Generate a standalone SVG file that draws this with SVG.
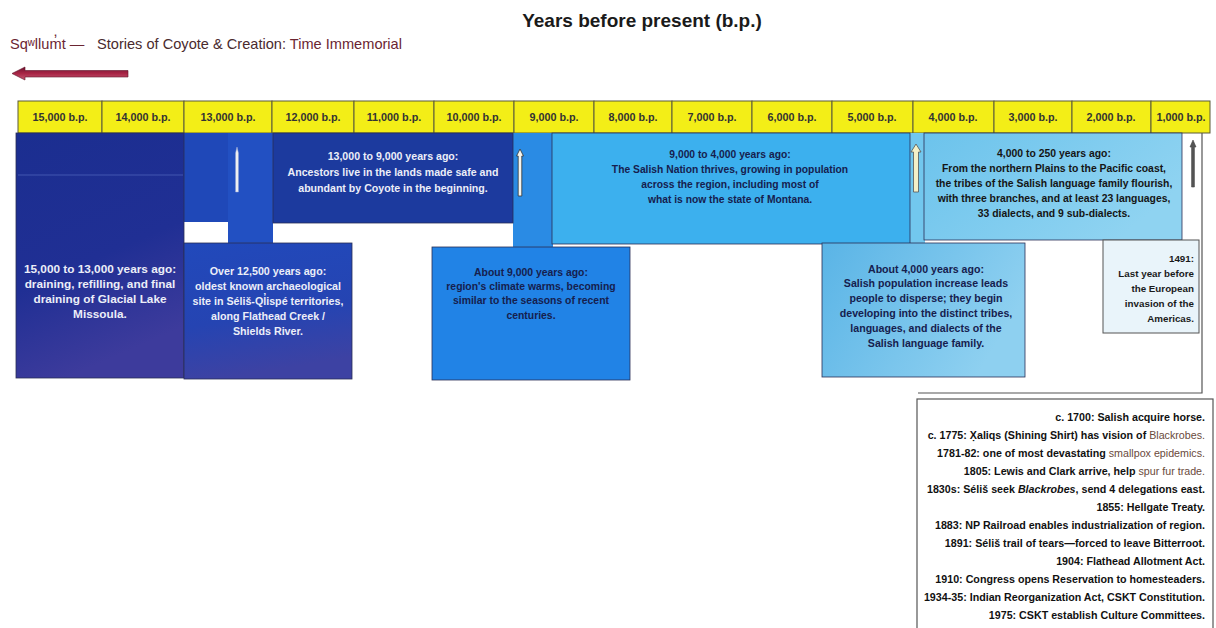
<svg xmlns="http://www.w3.org/2000/svg" width="1216" height="628" viewBox="0 0 1216 628">
<style>
text{font-family:"Liberation Sans",Arial,sans-serif}
.hd rect{fill:#f3ee17;stroke:#5a5a3a;stroke-width:1}
.hd text{font-size:10.8px;font-weight:bold;fill:#333;text-anchor:middle}
.blk{stroke:#2a2f55;stroke-width:0.8}
.tw{fill:#eceef8;font-weight:bold;text-anchor:middle}
.td{fill:#16204e;font-weight:bold;text-anchor:middle}
.tk{fill:#151515;font-weight:bold;text-anchor:middle}
.tl{font-size:10.7px;font-weight:bold;fill:#111;text-anchor:end}
.lt{font-weight:normal;fill:#6a4a3c}
.ln{fill:none;stroke:#555;stroke-width:1.2}
</style>
<defs>
<linearGradient id="gA" x1="0" y1="0" x2="0.3" y2="1"><stop offset="0" stop-color="#1b2e90"/><stop offset="0.6" stop-color="#202f94"/><stop offset="1" stop-color="#3d3b9c"/></linearGradient>
<linearGradient id="gB" x1="0" y1="0" x2="0.2" y2="1"><stop offset="0" stop-color="#2149bb"/><stop offset="0.6" stop-color="#2544b2"/><stop offset="1" stop-color="#3d42a3"/></linearGradient>
<linearGradient id="gG" x1="0" y1="0" x2="1" y2="0.4"><stop offset="0" stop-color="#5ab4e6"/><stop offset="1" stop-color="#8ed0f0"/></linearGradient>
<linearGradient id="gH" x1="0" y1="0" x2="1" y2="0.5"><stop offset="0" stop-color="#6cc3ec"/><stop offset="1" stop-color="#8fd3f1"/></linearGradient>
<linearGradient id="gR" x1="0" y1="0" x2="0" y2="1"><stop offset="0" stop-color="#6e1230"/><stop offset="0.5" stop-color="#a82545"/><stop offset="1" stop-color="#c65a74"/></linearGradient>
</defs>

<g id="title">
<text x="642" y="27" font-size="19" font-weight="bold" fill="#1a1a1a" text-anchor="middle">Years before present (b.p.)</text>
</g>
<g id="subtitle">
<text x="10" y="49" font-size="14.6" fill="#6b2532">Sqʷllum̓t — <tspan x="97" fill="#4a2a2e">Stories of Coyote &amp; Creation: </tspan>Time Immemorial</text>
<path d="M12,73.5 L25,67 V70.5 H128 V77 H25 V80 Z" fill="url(#gR)" stroke="#5e1026" stroke-width="0.6"/>
</g>

<g id="header" class="hd">
<g id="h15000"><rect x="18" y="101" width="84" height="32"/><text x="60" y="121">15,000 b.p.</text></g>
<g id="h14000"><rect x="102" y="101" width="82" height="32"/><text x="143" y="121">14,000 b.p.</text></g>
<g id="h13000"><rect x="184" y="101" width="88" height="32"/><text x="228" y="121">13,000 b.p.</text></g>
<g id="h12000"><rect x="272" y="101" width="82" height="32"/><text x="313" y="121">12,000 b.p.</text></g>
<g id="h11000"><rect x="354" y="101" width="80" height="32"/><text x="394" y="121">11,000 b.p.</text></g>
<g id="h10000"><rect x="434" y="101" width="80" height="32"/><text x="474" y="121">10,000 b.p.</text></g>
<g id="h9000"><rect x="514" y="101" width="80" height="32"/><text x="554" y="121">9,000 b.p.</text></g>
<g id="h8000"><rect x="594" y="101" width="78" height="32"/><text x="633" y="121">8,000 b.p.</text></g>
<g id="h7000"><rect x="672" y="101" width="80" height="32"/><text x="712" y="121">7,000 b.p.</text></g>
<g id="h6000"><rect x="752" y="101" width="80" height="32"/><text x="792" y="121">6,000 b.p.</text></g>
<g id="h5000"><rect x="832" y="101" width="81" height="32"/><text x="872" y="121">5,000 b.p.</text></g>
<g id="h4000"><rect x="913" y="101" width="81" height="32"/><text x="953" y="121">4,000 b.p.</text></g>
<g id="h3000"><rect x="994" y="101" width="78" height="32"/><text x="1033" y="121">3,000 b.p.</text></g>
<g id="h2000"><rect x="1072" y="101" width="79" height="32"/><text x="1111" y="121">2,000 b.p.</text></g>
<g id="h1000"><rect x="1151" y="101" width="59" height="32"/><text x="1181" y="121">1,000 b.p.</text></g>
</g>

<g id="col13000"><rect x="184" y="133" width="88" height="89" fill="#1f48b8"/><rect x="228" y="133" width="45" height="112" fill="#2250c2"/></g>
<g id="col9000"><rect x="513" y="133" width="40" height="114" fill="#2a8be4"/></g>
<g id="col4000"><rect x="909" y="133" width="16" height="111" fill="#72c7ee"/></g>
<g id="col1000"><path class="ln" d="M1202,133 V393 H918"/></g>

<g id="blockA">
<rect class="blk" x="16" y="133" width="168" height="245" fill="url(#gA)"/>
<line x1="18" y1="175" x2="183" y2="175" stroke="#4256b0" stroke-width="1"/>
<g class="tw" font-size="11.8"><text x="100" y="273">15,000 to 13,000 years ago:</text><text x="100" y="288">draining, refilling, and final</text><text x="100" y="303">draining of Glacial Lake</text><text x="100" y="318">Missoula.</text></g>
</g>
<g id="blockB">
<rect class="blk" x="184" y="243" width="168" height="136" fill="url(#gB)"/>
<g class="tw" font-size="10.7"><text x="268" y="275">Over 12,500 years ago:</text><text x="268" y="290">oldest known archaeological</text><text x="268" y="305">site in Séliš-Ql̓ispé territories,</text><text x="268" y="320">along Flathead Creek /</text><text x="268" y="335">Shields River.</text></g>
</g>
<g id="blockC">
<rect class="blk" x="273" y="133" width="240" height="90" fill="#1c3a9e"/>
<g class="tw" font-size="10.6"><text x="393" y="160">13,000 to 9,000 years ago:</text><text x="393" y="176">Ancestors live in the lands made safe and</text><text x="393" y="192">abundant by Coyote in the beginning.</text></g>
</g>
<g id="blockE">
<rect class="blk" x="432" y="247" width="198" height="133" fill="#2183e6"/>
<g class="td" font-size="10.4"><text x="531" y="276">About 9,000 years ago:</text><text x="531" y="290">region's climate warms, becoming</text><text x="531" y="304">similar to the seasons of recent</text><text x="531" y="319">centuries.</text></g>
</g>
<g id="blockF">
<rect class="blk" x="552" y="133" width="358" height="111" fill="#3cb0ee"/>
<g class="td" font-size="10.3"><text x="730" y="158">9,000 to 4,000 years ago:</text><text x="730" y="173">The Salish Nation thrives, growing in population</text><text x="730" y="188">across the region, including most of</text><text x="730" y="203">what is now the state of Montana.</text></g>
</g>
<g id="blockG">
<rect class="blk" x="822" y="243" width="203" height="134" fill="url(#gG)" stroke="#4a5a6a"/>
<g class="td" font-size="10.6"><text x="926" y="273">About 4,000 years ago:</text><text x="926" y="287">Salish population increase leads</text><text x="926" y="302">people to disperse; they begin</text><text x="926" y="317">developing into the distinct tribes,</text><text x="926" y="332">languages, and dialects of the</text><text x="926" y="347">Salish language family.</text></g>
</g>
<g id="blockH">
<rect class="blk" x="924" y="133" width="258" height="107" fill="url(#gH)" stroke="#3a4a5a"/>
<g class="tk" font-size="10.4"><text x="1054" y="157">4,000 to 250 years ago:</text><text x="1054" y="172">From the northern Plains to the Pacific coast,</text><text x="1054" y="187">the tribes of the Salish language family flourish,</text><text x="1054" y="202">with three branches, and at least 23 languages,</text><text x="1054" y="217">33 dialects, and 9 sub-dialects.</text></g>
</g>
<g id="blockI">
<rect x="1103" y="240" width="96" height="93" fill="#e9f4fa" stroke="#555" stroke-width="1"/>
<g font-size="9.8" font-weight="bold" fill="#1a1a1a" text-anchor="end"><text x="1194" y="262">1491:</text><text x="1194" y="277">Last year before</text><text x="1194" y="292">the European</text><text x="1194" y="307">invasion of the</text><text x="1194" y="322">Americas.</text></g>
</g>

<g id="recent">
<rect x="917" y="399" width="296" height="240" fill="#fff" stroke="#555" stroke-width="1.2"/>
<text class="tl" x="1205" y="421">c. 1700: Salish acquire horse.</text>
<text class="tl" x="1205" y="439">c. 1775: X̣aliqs (Shining Shirt) has vision of <tspan class="lt">Blackrobes.</tspan></text>
<text class="tl" x="1205" y="457">1781-82: one of most devastating <tspan class="lt">smallpox epidemics.</tspan></text>
<text class="tl" x="1205" y="475">1805: Lewis and Clark arrive, help <tspan class="lt">spur fur trade.</tspan></text>
<text class="tl" x="1205" y="493">1830s: Séliš seek <tspan font-style="italic">Blackrobes</tspan>, send 4 delegations east.</text>
<text class="tl" x="1205" y="511">1855: Hellgate Treaty.</text>
<text class="tl" x="1205" y="529">1883: NP Railroad enables industrialization of region.</text>
<text class="tl" x="1205" y="547">1891: Séliš trail of tears—forced to leave Bitterroot.</text>
<text class="tl" x="1205" y="565">1904: Flathead Allotment Act.</text>
<text class="tl" x="1205" y="583">1910: Congress opens Reservation to homesteaders.</text>
<text class="tl" x="1205" y="601">1934-35: Indian Reorganization Act, CSKT Constitution.</text>
<text class="tl" x="1205" y="619">1975: CSKT establish Culture Committees.</text>
</g>

<g id="connectors">
<path d="M235.6,192 V153 L237,147 L238.4,153 V192 Z" fill="#f2f2f2" stroke="#9aa8d8" stroke-width="0.5"/>
<path d="M518.2,196 V156 H516.5 L520,149 L523.5,156 H521.8 V196 Z" fill="#f4f4ee" stroke="#333" stroke-width="0.8"/>
<path d="M913.5,192 V152 H911 L916,144 L921,152 H918.5 V192 Z" fill="#f3f0c8" stroke="#555" stroke-width="0.8"/>
<path d="M1191.6,187 V147 H1190 L1193,140 L1196,147 H1194.4 V187 Z" fill="#555" stroke="#444" stroke-width="0.6"/>
</g>
</svg>
